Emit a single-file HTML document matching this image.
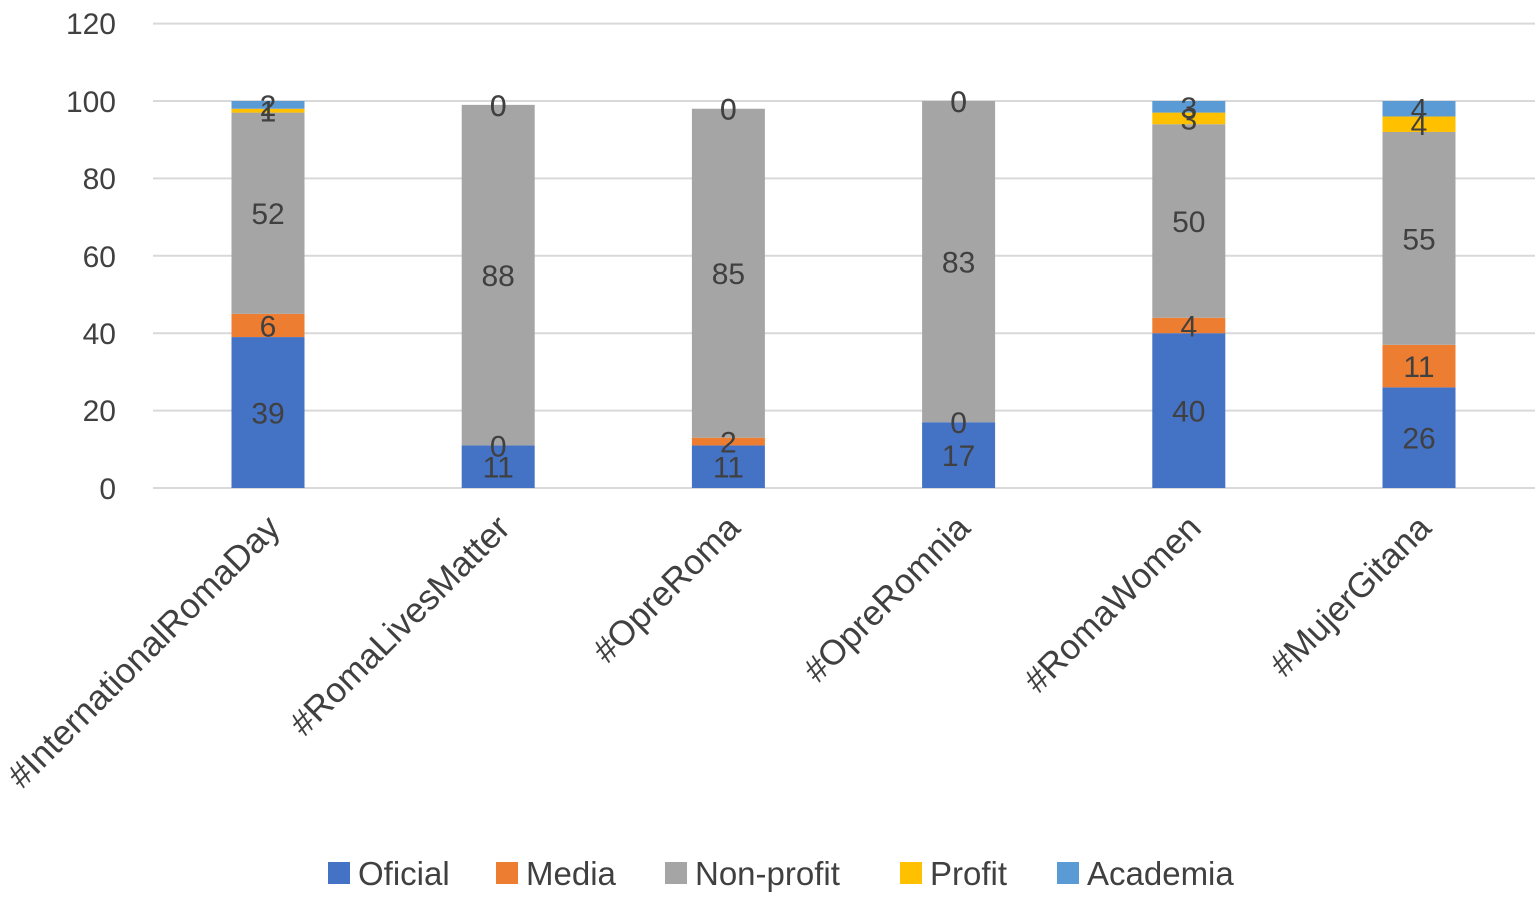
<!DOCTYPE html>
<html><head><meta charset="utf-8"><style>
body{margin:0;background:#fff}
svg text{font-family:"Liberation Sans",sans-serif;fill:#404040}
</style></head><body>
<svg width="1535" height="897" xmlns="http://www.w3.org/2000/svg">
<g stroke="#d9d9d9" stroke-width="2">
<line x1="153" x2="1535" y1="23.6" y2="23.6"/>
<line x1="153" x2="1535" y1="101" y2="101"/>
<line x1="153" x2="1535" y1="178.4" y2="178.4"/>
<line x1="153" x2="1535" y1="255.8" y2="255.8"/>
<line x1="153" x2="1535" y1="333.2" y2="333.2"/>
<line x1="153" x2="1535" y1="410.6" y2="410.6"/>
<line x1="153" x2="1535" y1="488" y2="488"/>
</g>
<g font-size="30" text-anchor="end">
<text x="116" y="34">120</text><text x="116" y="112">100</text><text x="116" y="189">80</text>
<text x="116" y="267">60</text><text x="116" y="344">40</text><text x="116" y="421">20</text><text x="116" y="499">0</text>
</g>
<!-- bar 1 -->
<rect x="231.5" y="337.07" width="73" height="150.93" fill="#4472C4"/>
<rect x="231.5" y="313.85" width="73" height="23.22" fill="#ED7D31"/>
<rect x="231.5" y="112.61" width="73" height="201.24" fill="#A5A5A5"/>
<rect x="231.5" y="108.74" width="73" height="3.87" fill="#FFC000"/>
<rect x="231.5" y="101" width="73" height="7.74" fill="#5B9BD5"/>
<!-- bar 2 -->
<rect x="461.7" y="445.43" width="73" height="42.57" fill="#4472C4"/>
<rect x="461.7" y="104.87" width="73" height="340.56" fill="#A5A5A5"/>
<!-- bar 3 -->
<rect x="691.9" y="445.43" width="73" height="42.57" fill="#4472C4"/>
<rect x="691.9" y="437.69" width="73" height="7.74" fill="#ED7D31"/>
<rect x="691.9" y="108.74" width="73" height="328.95" fill="#A5A5A5"/>
<!-- bar 4 -->
<rect x="922.1" y="422.21" width="73" height="65.79" fill="#4472C4"/>
<rect x="922.1" y="101" width="73" height="321.21" fill="#A5A5A5"/>
<!-- bar 5 -->
<rect x="1152.3" y="333.2" width="73" height="154.8" fill="#4472C4"/>
<rect x="1152.3" y="317.72" width="73" height="15.48" fill="#ED7D31"/>
<rect x="1152.3" y="124.22" width="73" height="193.5" fill="#A5A5A5"/>
<rect x="1152.3" y="112.61" width="73" height="11.61" fill="#FFC000"/>
<rect x="1152.3" y="101" width="73" height="11.61" fill="#5B9BD5"/>
<!-- bar 6 -->
<rect x="1382.5" y="387.38" width="73" height="100.62" fill="#4472C4"/>
<rect x="1382.5" y="344.81" width="73" height="42.57" fill="#ED7D31"/>
<rect x="1382.5" y="131.96" width="73" height="212.85" fill="#A5A5A5"/>
<rect x="1382.5" y="116.48" width="73" height="15.48" fill="#FFC000"/>
<rect x="1382.5" y="101" width="73" height="15.48" fill="#5B9BD5"/>
<g font-size="30" text-anchor="middle">
<text x="268" y="423.5">39</text><text x="268" y="336.5">6</text><text x="268" y="224.2">52</text><text x="268" y="121.7">1</text><text x="268" y="115.9">2</text>
<text x="498.2" y="477.7">11</text><text x="498.2" y="456.4">0</text><text x="498.2" y="286.2">88</text><text x="498.2" y="115.9">0</text><text x="498.2" y="115.9">0</text>
<text x="728.4" y="477.7">11</text><text x="728.4" y="452.6">2</text><text x="728.4" y="284.2">85</text><text x="728.4" y="119.7">0</text><text x="728.4" y="119.7">0</text>
<text x="958.6" y="466.1">17</text><text x="958.6" y="433.2">0</text><text x="958.6" y="272.6">83</text><text x="958.6" y="112">0</text><text x="958.6" y="112">0</text>
<text x="1188.8" y="421.6">40</text><text x="1188.8" y="336.5">4</text><text x="1188.8" y="232">50</text><text x="1188.8" y="129.4">3</text><text x="1188.8" y="117.8">3</text>
<text x="1419" y="448.7">26</text><text x="1419" y="377.1">11</text><text x="1419" y="249.4">55</text><text x="1419" y="135.2">4</text><text x="1419" y="119.7">4</text>
</g>
<g font-size="35" text-anchor="end">
<text transform="translate(282,530) rotate(-45)">#InternationalRomaDay</text>
<text transform="translate(512,530) rotate(-45)">#RomaLivesMatter</text>
<text transform="translate(742,530) rotate(-45)">#OpreRoma</text>
<text transform="translate(972,530) rotate(-45)">#OpreRomnia</text>
<text transform="translate(1203,530) rotate(-45)">#RomaWomen</text>
<text transform="translate(1433,530) rotate(-45)">#MujerGitana</text>
</g>
<g font-size="33">
<rect x="328" y="862" width="22" height="22" fill="#4472C4"/><text x="358" y="885">Oficial</text>
<rect x="496" y="862" width="22" height="22" fill="#ED7D31"/><text x="526" y="885">Media</text>
<rect x="665" y="862" width="22" height="22" fill="#A5A5A5"/><text x="695" y="885">Non-profit</text>
<rect x="900" y="862" width="22" height="22" fill="#FFC000"/><text x="930" y="885">Profit</text>
<rect x="1057" y="862" width="22" height="22" fill="#5B9BD5"/><text x="1087" y="885">Academia</text>
</g>
</svg>
</body></html>
